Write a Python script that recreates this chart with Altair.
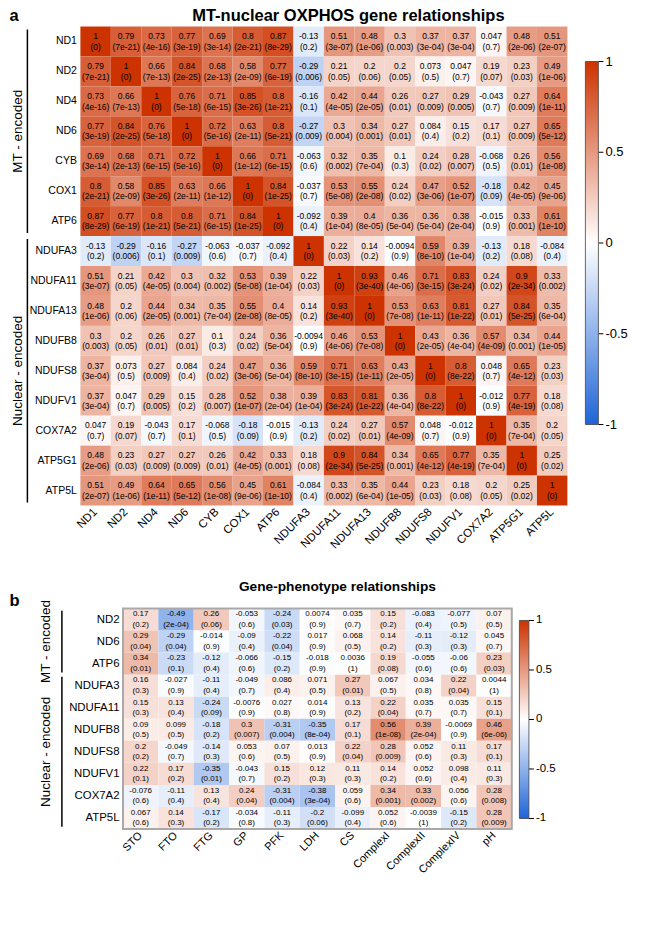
import altair as alt
import pandas as pd

# ---------------- Panel a data ----------------
genes_a = ["ND1", "ND2", "ND4", "ND6", "CYB", "COX1", "ATP6", "NDUFA3", "NDUFA11",
           "NDUFA13", "NDUFB8", "NDUFS8", "NDUFV1", "COX7A2", "ATP5G1", "ATP5L"]

r_a = [
    ["1", "0.79", "0.73", "0.77", "0.69", "0.8", "0.87", "-0.13", "0.51", "0.48", "0.3", "0.37", "0.37", "0.047", "0.48", "0.51"],
    ["0.79", "1", "0.66", "0.84", "0.68", "0.58", "0.77", "-0.29", "0.21", "0.2", "0.2", "0.073", "0.047", "0.19", "0.23", "0.49"],
    ["0.73", "0.66", "1", "0.76", "0.71", "0.85", "0.8", "-0.16", "0.42", "0.44", "0.26", "0.27", "0.29", "-0.043", "0.27", "0.64"],
    ["0.77", "0.84", "0.76", "1", "0.72", "0.63", "0.8", "-0.27", "0.3", "0.34", "0.27", "0.084", "0.15", "0.17", "0.27", "0.65"],
    ["0.69", "0.68", "0.71", "0.72", "1", "0.66", "0.71", "-0.063", "0.32", "0.35", "0.1", "0.24", "0.28", "-0.068", "0.26", "0.56"],
    ["0.8", "0.58", "0.85", "0.63", "0.66", "1", "0.84", "-0.037", "0.53", "0.55", "0.24", "0.47", "0.52", "-0.18", "0.42", "0.45"],
    ["0.87", "0.77", "0.8", "0.8", "0.71", "0.84", "1", "-0.092", "0.39", "0.4", "0.36", "0.36", "0.38", "-0.015", "0.33", "0.61"],
    ["-0.13", "-0.29", "-0.16", "-0.27", "-0.063", "-0.037", "-0.092", "1", "0.22", "0.14", "-0.0094", "0.59", "0.39", "-0.13", "0.18", "-0.084"],
    ["0.51", "0.21", "0.42", "0.3", "0.32", "0.53", "0.39", "0.22", "1", "0.93", "0.46", "0.71", "0.83", "0.24", "0.9", "0.33"],
    ["0.48", "0.2", "0.44", "0.34", "0.35", "0.55", "0.4", "0.14", "0.93", "1", "0.53", "0.63", "0.81", "0.27", "0.84", "0.35"],
    ["0.3", "0.2", "0.26", "0.27", "0.1", "0.24", "0.36", "-0.0094", "0.46", "0.53", "1", "0.43", "0.36", "0.57", "0.34", "0.44"],
    ["0.37", "0.073", "0.27", "0.084", "0.24", "0.47", "0.36", "0.59", "0.71", "0.63", "0.43", "1", "0.8", "0.048", "0.65", "0.23"],
    ["0.37", "0.047", "0.29", "0.15", "0.28", "0.52", "0.38", "0.39", "0.83", "0.81", "0.36", "0.8", "1", "-0.012", "0.77", "0.18"],
    ["0.047", "0.19", "-0.043", "0.17", "-0.068", "-0.18", "-0.015", "-0.13", "0.24", "0.27", "0.57", "0.048", "-0.012", "1", "0.35", "0.2"],
    ["0.48", "0.23", "0.27", "0.27", "0.26", "0.42", "0.33", "0.18", "0.9", "0.84", "0.34", "0.65", "0.77", "0.35", "1", "0.25"],
    ["0.51", "0.49", "0.64", "0.65", "0.56", "0.45", "0.61", "-0.084", "0.33", "0.35", "0.44", "0.23", "0.18", "0.2", "0.25", "1"],
]

p_a = [
    ["0", "7e-21", "4e-16", "3e-19", "3e-14", "2e-21", "8e-29", "0.2", "3e-07", "1e-06", "0.003", "3e-04", "3e-04", "0.7", "2e-06", "2e-07"],
    ["7e-21", "0", "7e-13", "2e-25", "2e-13", "2e-09", "6e-19", "0.006", "0.05", "0.06", "0.05", "0.5", "0.7", "0.07", "0.03", "1e-06"],
    ["4e-16", "7e-13", "0", "5e-18", "6e-15", "3e-26", "1e-21", "0.1", "4e-05", "2e-05", "0.01", "0.009", "0.005", "0.7", "0.009", "1e-11"],
    ["3e-19", "2e-25", "5e-18", "0", "5e-16", "2e-11", "5e-21", "0.009", "0.004", "0.001", "0.01", "0.4", "0.2", "0.1", "0.009", "5e-12"],
    ["3e-14", "2e-13", "6e-15", "5e-16", "0", "1e-12", "6e-15", "0.6", "0.002", "7e-04", "0.3", "0.02", "0.007", "0.5", "0.01", "1e-08"],
    ["2e-21", "2e-09", "3e-26", "2e-11", "1e-12", "0", "1e-25", "0.7", "5e-08", "2e-08", "0.02", "3e-06", "1e-07", "0.09", "4e-05", "9e-06"],
    ["8e-29", "6e-19", "1e-21", "5e-21", "6e-15", "1e-25", "0", "0.4", "1e-04", "8e-05", "5e-04", "5e-04", "2e-04", "0.9", "0.001", "1e-10"],
    ["0.2", "0.006", "0.1", "0.009", "0.6", "0.7", "0.4", "0", "0.03", "0.2", "0.9", "8e-10", "1e-04", "0.2", "0.08", "0.4"],
    ["3e-07", "0.05", "4e-05", "0.004", "0.002", "5e-08", "1e-04", "0.03", "0", "3e-40", "4e-06", "3e-15", "3e-24", "0.02", "2e-34", "0.002"],
    ["1e-06", "0.06", "2e-05", "0.001", "7e-04", "2e-08", "8e-05", "0.2", "3e-40", "0", "7e-08", "1e-11", "1e-22", "0.01", "5e-25", "6e-04"],
    ["0.003", "0.05", "0.01", "0.01", "0.3", "0.02", "5e-04", "0.9", "4e-06", "7e-08", "0", "2e-05", "4e-04", "4e-09", "0.001", "1e-05"],
    ["3e-04", "0.5", "0.009", "0.4", "0.02", "3e-06", "5e-04", "8e-10", "3e-15", "1e-11", "2e-05", "0", "8e-22", "0.7", "4e-12", "0.03"],
    ["3e-04", "0.7", "0.005", "0.2", "0.007", "1e-07", "2e-04", "1e-04", "3e-24", "1e-22", "4e-04", "8e-22", "0", "0.9", "4e-19", "0.08"],
    ["0.7", "0.07", "0.7", "0.1", "0.5", "0.09", "0.9", "0.2", "0.02", "0.01", "4e-09", "0.7", "0.9", "0", "7e-04", "0.05"],
    ["2e-06", "0.03", "0.009", "0.009", "0.01", "4e-05", "0.001", "0.08", "2e-34", "5e-25", "0.001", "4e-12", "4e-19", "7e-04", "0", "0.02"],
    ["2e-07", "1e-06", "1e-11", "5e-12", "1e-08", "9e-06", "1e-10", "0.4", "0.002", "6e-04", "1e-05", "0.03", "0.08", "0.05", "0.02", "0"],
]

groups_a = ["MT - encoded", "Nuclear - encoded"]
group_start_a = [0, 7]
group_end_a = [7, 16]

# ---------------- Panel b data ----------------
genes_b = ["ND2", "ND6", "ATP6", "NDUFA3", "NDUFA11", "NDUFB8", "NDUFS8", "NDUFV1", "COX7A2", "ATP5L"]
pheno_b = ["STO", "FTO", "FTG", "GP", "PFK", "LDH", "CS", "ComplexI", "ComplexII", "ComplexIV", "pH"]

r_b = [
    ["0.17", "-0.49", "0.26", "-0.053", "-0.24", "0.0074", "0.035", "0.15", "-0.083", "-0.077", "0.07"],
    ["0.29", "-0.29", "-0.014", "-0.09", "-0.22", "0.017", "0.068", "0.14", "-0.11", "-0.12", "0.045"],
    ["0.34", "-0.23", "-0.12", "-0.066", "-0.15", "-0.018", "0.0036", "0.19", "-0.055", "-0.06", "0.23"],
    ["0.16", "-0.027", "-0.11", "-0.049", "0.086", "0.071", "0.27", "0.067", "0.034", "0.22", "0.0044"],
    ["0.15", "0.13", "-0.24", "-0.0076", "0.027", "0.014", "0.13", "0.22", "0.035", "0.035", "0.15"],
    ["0.09", "0.099", "-0.18", "0.3", "-0.31", "-0.35", "0.17", "0.56", "0.39", "-0.0069", "0.46"],
    ["0.2", "-0.049", "-0.14", "0.053", "0.07", "0.013", "0.22", "0.28", "0.052", "0.11", "0.17"],
    ["0.22", "0.17", "-0.35", "-0.043", "0.15", "0.12", "0.11", "0.14", "0.052", "0.098", "0.11"],
    ["-0.076", "-0.11", "0.13", "0.24", "-0.31", "-0.38", "0.059", "0.34", "0.33", "0.056", "0.28"],
    ["0.067", "0.14", "-0.17", "-0.034", "-0.11", "-0.2", "-0.099", "0.052", "-0.0039", "-0.15", "0.28"],
]

p_b = [
    ["0.2", "2e-04", "0.06", "0.6", "0.03", "0.9", "0.7", "0.2", "0.4", "0.5", "0.5"],
    ["0.04", "0.04", "0.9", "0.4", "0.04", "0.9", "0.5", "0.2", "0.3", "0.3", "0.7"],
    ["0.01", "0.1", "0.4", "0.6", "0.2", "0.9", "1", "0.08", "0.6", "0.6", "0.03"],
    ["0.3", "0.9", "0.4", "0.7", "0.4", "0.5", "0.01", "0.5", "0.8", "0.04", "1"],
    ["0.3", "0.4", "0.09", "0.9", "0.8", "0.9", "0.2", "0.04", "0.7", "0.7", "0.1"],
    ["0.5", "0.5", "0.2", "0.007", "0.004", "8e-04", "0.1", "1e-08", "2e-04", "0.9", "6e-06"],
    ["0.2", "0.7", "0.3", "0.6", "0.5", "0.9", "0.04", "0.009", "0.6", "0.3", "0.1"],
    ["0.1", "0.2", "0.01", "0.7", "0.2", "0.3", "0.3", "0.2", "0.6", "0.4", "0.3"],
    ["0.6", "0.4", "0.4", "0.04", "0.004", "3e-04", "0.6", "0.001", "0.002", "0.6", "0.008"],
    ["0.6", "0.3", "0.2", "0.8", "0.3", "0.06", "0.4", "0.6", "1", "0.2", "0.009"],
]

groups_b = ["MT - encoded", "Nuclear - encoded"]
group_start_b = [0, 3]
group_end_b = [3, 10]

legend_values = [-1, -0.5, 0, 0.5, 1]
legend_labels = ["-1", "-0.5", "0", "0.5", "1"]

FONT = "Liberation Sans"
RED = "#cc3300"
BLUE = "#1f64d6"


def long_table(rows, cols, r, p):
    recs = []
    for i, rn in enumerate(rows):
        for j, cn in enumerate(cols):
            recs.append({"row": rn, "col": cn, "r": r[i][j], "v": float(r[i][j]),
                         "p": "(" + p[i][j] + ")"})
    return pd.DataFrame(recs)


def heat_layers(rows, cols, r, p, xr, yr, txt_size, txt_dy, lab_size, xlab_size, cb):
    df = long_table(rows, cols, r, p)
    xs = alt.Scale(domain=cols, range=xr, paddingInner=0, paddingOuter=0)
    ys = alt.Scale(domain=rows, range=yr, paddingInner=0, paddingOuter=0)
    X = alt.X("col:N", scale=xs, axis=None)
    Y = alt.Y("row:N", scale=ys, axis=None)
    base = alt.Chart(df).encode(x=X, y=Y)
    color_scale = alt.Scale(domain=[-1, 0, 1], range=[BLUE, "#ffffff", RED], interpolate="rgb")
    rect = base.mark_rect().encode(
        color=alt.Color("v:Q", scale=color_scale,
                        legend=alt.Legend(title=None, orient="none", direction="vertical",
                                          legendX=cb["x"], legendY=cb["y"], padding=0,
                                          gradientLength=cb["len"], gradientThickness=cb["thick"],
                                          values=legend_values, labelExpr="''",
                                          gradientStrokeColor="#444444", gradientStrokeWidth=0.8)))
    t1 = base.mark_text(fontSize=txt_size, font=FONT, color="black", dy=-txt_dy).encode(text="r:N")
    t2 = base.mark_text(fontSize=txt_size, font=FONT, color="black", dy=txt_dy).encode(text="p:N")
    rowlab = alt.Chart(pd.DataFrame({"row": rows})).mark_text(
        align="right", baseline="middle", fontSize=lab_size, font=FONT, color="black"
    ).encode(x=alt.value(xr[0] - 3.5), y=Y, text="row:N")
    collab = alt.Chart(pd.DataFrame({"col": cols})).mark_text(
        align="right", baseline="middle", angle=315, fontSize=xlab_size, font=FONT, color="black"
    ).encode(x=X, y=alt.value(yr[1] + 5), text="col:N")
    return alt.layer(rect, t1, t2, rowlab, collab)


def group_layers(groups, gs, ge, n, yr, line_x, text_x, fsize, frame=None):
    gdf = pd.DataFrame({"g": groups, "s": gs, "e": ge})
    qy = alt.Scale(domain=[0, n], range=yr, nice=False, zero=False)
    gb = alt.Chart(gdf).transform_calculate(
        s2="datum.s + 0.1", e2="datum.e - 0.1", m="(datum.s + datum.e) / 2")
    rule = gb.mark_rule(strokeWidth=1.5, color="black").encode(
        x=alt.value(line_x), y=alt.Y("s2:Q", scale=qy, axis=None), y2="e2:Q")
    txt = gb.mark_text(angle=270, fontSize=fsize, font=FONT, color="black",
                       baseline="middle", align="center").encode(
        x=alt.value(text_x), y=alt.Y("m:Q", scale=qy, axis=None), text="g:N")
    layers = [rule, txt]
    if frame is not None:
        fdf = pd.DataFrame({"x0": [0], "x1": [frame["ncol"]], "y0": [0], "y1": [n]})
        qx = alt.Scale(domain=[0, frame["ncol"]], range=frame["xr"], nice=False, zero=False)
        fr = alt.Chart(fdf).mark_rect(fillOpacity=0, stroke="#a9a9a9", strokeWidth=2).encode(
            x=alt.X("x0:Q", scale=qx, axis=None), x2="x1:Q",
            y=alt.Y("y0:Q", scale=qy, axis=None), y2="y1:Q")
        layers.append(fr)
    return alt.layer(*layers)


def cb_layers(cb, fsize):
    df = pd.DataFrame({"v": legend_values, "lab": legend_labels})
    qs = alt.Scale(domain=[-1, 1], range=[cb["y"] + cb["len"], cb["y"]], nice=False, zero=False)
    x0 = cb["x"] + cb["thick"]
    tick = alt.Chart(df).mark_rule(color="black", strokeWidth=1).encode(
        x=alt.value(x0), x2=alt.value(x0 + 5), y=alt.Y("v:Q", scale=qs, axis=None))
    lab = alt.Chart(df).mark_text(align="left", baseline="middle", fontSize=fsize,
                                  font=FONT, color="black").encode(
        x=alt.value(x0 + 7), y=alt.Y("v:Q", scale=qs, axis=None), text="lab:N")
    return alt.layer(tick, lab)


def label_layer(text, x, y, size, align="center"):
    return alt.Chart(pd.DataFrame({"t": [text]})).mark_text(
        fontSize=size, fontWeight="bold", font=FONT, color="black", align=align,
        baseline="middle").encode(x=alt.value(x), y=alt.value(y), text="t:N")


# layout (pixels relative to the top heatmap's upper-left corner)
cb_a = {"x": 505, "y": 35, "len": 363, "thick": 13}
cb_b = {"x": 439, "y": 594, "len": 198, "thick": 9.5}

heat_a = heat_layers(genes_a, genes_a, r_a, p_a, [0, 487], [0, 479], 8.5, 5.2, 10.5, 11.5, cb_a)
grp_a = group_layers(groups_a, group_start_a, group_end_a, len(genes_a), [0, 479], -53, -62, 13.5)
cbl_a = cb_layers(cb_a, 13)

yr_b = [582, 802.5]
heat_b = heat_layers(genes_b, pheno_b, r_b, p_b, [42.6, 431.4], yr_b, 8, 5.2, 11.4, 11, cb_b)
grp_b = group_layers(groups_b, group_start_b, group_end_b, len(genes_b), yr_b, -18.5, -34.5, 13.5,
                     frame={"ncol": len(pheno_b), "xr": [42.6, 431.4]})
cbl_b = cb_layers(cb_b, 11.5)

titles = alt.layer(
    label_layer("a", -71, -11, 16.5, "left"),
    label_layer("MT-nuclear OXPHOS gene relationships", 268, -11, 16.5),
    label_layer("b", -71, 575, 16.5, "left"),
    label_layer("Gene-phenotype relationships", 257, 561, 13.7),
)

chart = alt.layer(heat_a, grp_a, cbl_a, heat_b, grp_b, cbl_b, titles).resolve_scale(
    x="independent", y="independent", color="independent"
).properties(
    width=560, height=870,
    autosize=alt.AutoSizeParams(type="none"),
    padding={"left": 72.4, "top": 18.5, "right": 0, "bottom": 0},
).configure_view(strokeOpacity=0)

chart.save("out.html", embed_options={"renderer": "svg", "actions": False})
